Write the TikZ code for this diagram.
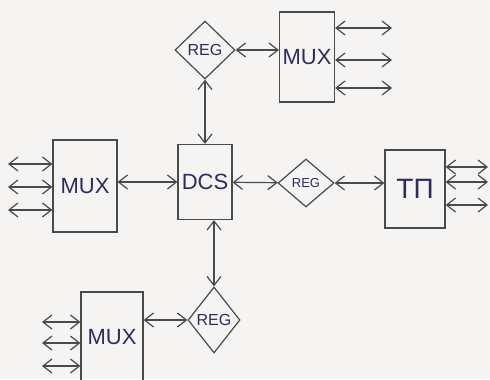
\documentclass[tikz,border=0pt]{standalone}
\usepackage{fontspec}
\setmainfont{Liberation Sans}
\usetikzlibrary{shapes.geometric,arrows.meta}
\definecolor{paper}{HTML}{F6F4F3}
\definecolor{pencil}{HTML}{4A4A4A}
\definecolor{ink}{HTML}{2E2C5C}
\begin{document}
\begin{tikzpicture}[x=0.5pt,y=-0.5pt,
  box/.style={draw=pencil,line width=0.6pt,rectangle,inner sep=0pt,text=ink,font=\fontsize{11}{11}\selectfont},
  regnode/.style={draw=pencil,line width=0.6pt,diamond,inner sep=0pt,text=ink,font=\fontsize{8}{8}\selectfont},
  link/.style={draw=pencil,line width=0.6pt,{Straight Barb[length=4.5pt,width=7pt]}-{Straight Barb[length=4.5pt,width=7pt]}}]
\fill[paper] (0,0) rectangle (490,379);
\useasboundingbox (0,0) rectangle (490,379);

% central controller and registers
\node[box,minimum width=27pt,minimum height=37.5pt] (dcs) at (205,182) {DCS};
\node[regnode,minimum width=30pt,minimum height=29pt] (regT) at (205,50) {REG};
\node[regnode,minimum width=28pt,minimum height=24pt,font=\fontsize{6.5}{6.5}\selectfont] (regR) at (306,183) {REG};
\node[regnode,minimum width=26pt,minimum height=33pt] (regB) at (214,320) {REG};

% multiplexers and terminal
\node[box,minimum width=27.5pt,minimum height=45pt] (muxT) at (307,57) {MUX};
\node[box,minimum width=32pt,minimum height=46pt] (muxL) at (85,186) {MUX};
\node[box,minimum width=31pt,minimum height=45pt] (muxB) at (112,337) {MUX};
\node[box,minimum width=30pt,minimum height=39pt,font=\fontsize{14}{14}\selectfont] (tp) at (415,189) {ТП};

% links between blocks
\draw[link] (regT) -- (muxT.west |- regT);
\draw[link] (regT) -- (dcs);
\draw[link] (muxL.east |- dcs) -- (dcs);
\draw[link] (dcs) -- (regR);
\draw[link] (regR) -- (tp.west |- regR);
\draw[link] (dcs.south -| regB) -- (regB);
\draw[link] (muxB.east |- regB) -- (regB);

% external lines
\foreach \y [count=\i] in {28,60,88} {
  \coordinate (t\i) at (392,\y);
  \draw[link] (muxT.east |- t\i) -- (t\i);
}
\foreach \y [count=\i] in {164,187,210} {
  \coordinate (l\i) at (8,\y);
  \draw[link] (l\i) -- (muxL.west |- l\i);
}
\foreach \y [count=\i] in {167,182,205} {
  \coordinate (r\i) at (488,\y);
  \draw[link] (tp.east |- r\i) -- (r\i);
}
\foreach \y [count=\i] in {322,343,366} {
  \coordinate (b\i) at (42,\y);
  \draw[link] (b\i) -- (muxB.west |- b\i);
}
\end{tikzpicture}
\end{document}
